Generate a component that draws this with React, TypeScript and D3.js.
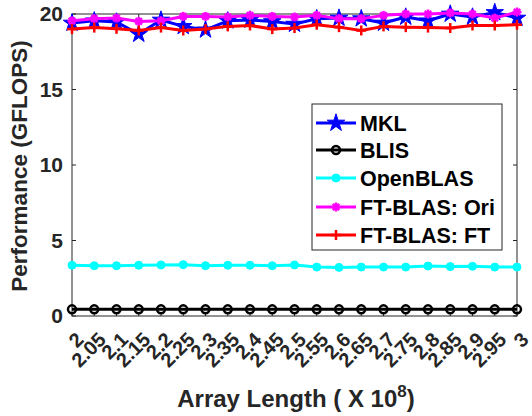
import React from "react";
import * as d3 from "d3";

const xValues = [2, 2.05, 2.1, 2.15, 2.2, 2.25, 2.3, 2.35, 2.4, 2.45, 2.5, 2.55, 2.6, 2.65, 2.7, 2.75, 2.8, 2.85, 2.9, 2.95, 3];
const mkl = [19.4, 19.55, 19.47, 18.67, 19.6, 19.18, 18.95, 19.55, 19.6, 19.5, 19.33, 19.69, 19.73, 19.69, 19.4, 19.8, 19.55, 20.0, 19.8, 20.1, 19.73];
const blis = [0.44, 0.44, 0.44, 0.44, 0.44, 0.44, 0.44, 0.44, 0.44, 0.44, 0.44, 0.44, 0.44, 0.44, 0.44, 0.44, 0.44, 0.44, 0.44, 0.44, 0.44];
const openblas = [3.36, 3.33, 3.33, 3.36, 3.38, 3.4, 3.33, 3.36, 3.36, 3.33, 3.38, 3.24, 3.22, 3.24, 3.24, 3.24, 3.31, 3.27, 3.29, 3.24, 3.24];
const ftOri = [19.55, 19.69, 19.73, 19.51, 19.55, 19.84, 19.84, 19.8, 19.91, 19.84, 19.8, 19.91, 19.69, 19.69, 19.91, 20.0, 20.0, 20.07, 20.0, 19.73, 20.13];
const ftFt = [19.0, 19.1, 19.02, 18.91, 19.1, 18.91, 19.0, 19.18, 19.24, 19.0, 19.07, 19.29, 19.13, 18.91, 19.18, 19.13, 19.1, 19.07, 19.24, 19.24, 19.29];
const yTicks = [0, 5, 10, 15, 20];
const seriesNames = ["MKL", "BLIS", "OpenBLAS", "FT-BLAS: Ori", "FT-BLAS: FT"];
const seriesColors = ["#0000ff", "#000000", "#00ffff", "#ff00ff", "#ff0000"];
const seriesMarkers = ["star", "ocircle", "fcircle", "asterisk", "plus"];
const seriesData = [mkl, blis, openblas, ftOri, ftFt];

const W = 532, H = 416;
const L = 72, R = 517, T = 14, B = 316;
const FONT = "'Liberation Sans', Arial, sans-serif";
const AX = "#262626";

function Marker({ type, x, y, color }: { type: string; x: number; y: number; color: string }) {
  if (type === "star") {
    const p = d3.symbol(d3.symbolStar, 95)();
    return <path d={p || ""} transform={`translate(${x},${y})`} fill={color} stroke={color} strokeWidth={1} />;
  }
  if (type === "ocircle") return <circle cx={x} cy={y} r={4} fill="none" stroke={color} strokeWidth={2.5} />;
  if (type === "fcircle") return <circle cx={x} cy={y} r={4} fill={color} stroke={color} strokeWidth={1} />;
  if (type === "asterisk") {
    const s = 4.5, d = 3.2;
    return (
      <g stroke={color} strokeWidth={2.5}>
        <line x1={x - s} y1={y} x2={x + s} y2={y} />
        <line x1={x} y1={y - s} x2={x} y2={y + s} />
        <line x1={x - d} y1={y - d} x2={x + d} y2={y + d} />
        <line x1={x - d} y1={y + d} x2={x + d} y2={y - d} />
      </g>
    );
  }
  const s = 5;
  return (
    <g stroke={color} strokeWidth={2.5}>
      <line x1={x - s} y1={y} x2={x + s} y2={y} />
      <line x1={x} y1={y - s} x2={x} y2={y + s} />
    </g>
  );
}

export default function App() {
  const x = d3.scaleLinear().domain([2, 3]).range([L, R]);
  const y = d3.scaleLinear().domain([0, 20]).range([B, T]);
  const line = d3.line<number>().x((_, i) => x(xValues[i])).y((d) => y(d));
  const fmt = (v: number) => String(+v.toFixed(2));

  const legX = 312, legY = 104, legW = 190, legH = 146;
  const rowY = [123, 150, 178, 207, 235];

  return (
    <svg width={W} height={H} style={{ position: "absolute", left: 0, top: 0, background: "#fff" }}>
      <rect x={0} y={0} width={W} height={H} fill="#fff" />
      <rect x={L} y={T} width={R - L} height={B - T} fill="#fff" stroke={AX} strokeWidth={1} />
      {xValues.map((v, i) => (
        <g key={"xt" + i} stroke={AX} strokeWidth={1}>
          <line x1={x(v)} x2={x(v)} y1={B} y2={B - 4} />
          <line x1={x(v)} x2={x(v)} y1={T} y2={T + 4} />
        </g>
      ))}
      {yTicks.map((v, i) => (
        <g key={"yt" + i} stroke={AX} strokeWidth={1}>
          <line x1={L} x2={L + 4} y1={y(v)} y2={y(v)} />
          <line x1={R} x2={R - 4} y1={y(v)} y2={y(v)} />
        </g>
      ))}
      {seriesData.map((data, si) => (
        <g key={"s" + si}>
          <path d={line(data) || ""} fill="none" stroke={seriesColors[si]} strokeWidth={3} strokeLinejoin="round" />
          {data.map((d, i) => (
            <Marker key={i} type={seriesMarkers[si]} x={x(xValues[i])} y={y(d)} color={seriesColors[si]} />
          ))}
        </g>
      ))}
      {yTicks.map((v, i) => (
        <text key={"yl" + i} x={63} y={y(v)} dy="0.35em" textAnchor="end" fontFamily={FONT} fontWeight="bold" fontSize={21} fill={AX}>
          {v}
        </text>
      ))}
      {xValues.map((v, i) => (
        <text key={"xl" + i} transform={`translate(${x(v) + 8},${336}) rotate(-45)`} textAnchor="end" dy="0.35em" fontFamily={FONT} fontWeight="bold" fontSize={20} fill={AX}>
          {fmt(v)}
        </text>
      ))}
      <text transform={`translate(27,166) rotate(-90)`} textAnchor="middle" fontFamily={FONT} fontWeight="bold" fontSize={22.5} fill={AX}>
        Performance (GFLOPS)
      </text>
      <text x={296} y={407} textAnchor="middle" fontFamily={FONT} fontWeight="bold" fontSize={24} fill={AX}>
        Array Length ( X 10<tspan dy={-10} fontSize={17}>8</tspan><tspan dy={10}>)</tspan>
      </text>
      <rect x={legX} y={legY} width={legW} height={legH} fill="#fff" stroke={AX} strokeWidth={1} />
      {seriesNames.map((n, i) => (
        <g key={"lg" + i}>
          <line x1={316} x2={356} y1={rowY[i]} y2={rowY[i]} stroke={seriesColors[i]} strokeWidth={3} />
          <Marker type={seriesMarkers[i]} x={336} y={rowY[i]} color={seriesColors[i]} />
          <text x={360} y={rowY[i]} dy="0.35em" fontFamily={FONT} fontWeight="bold" fontSize={21.5} fill="#000">
            {n}
          </text>
        </g>
      ))}
    </svg>
  );
}
